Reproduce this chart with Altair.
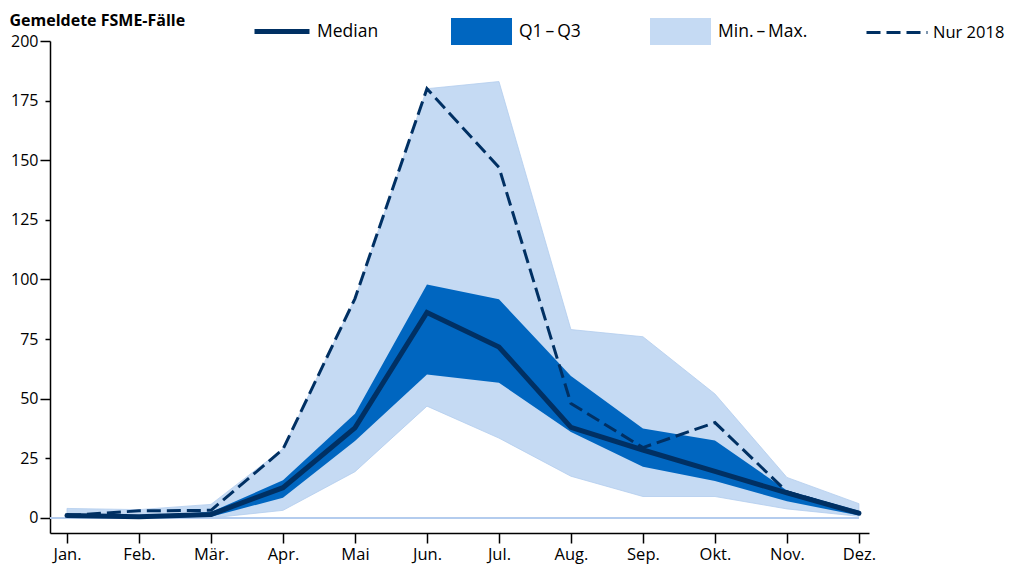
import altair as alt
import pandas as pd

months = ["Jan.", "Feb.", "Mär.", "Apr.", "Mai", "Jun.", "Jul.", "Aug.", "Sep.", "Okt.", "Nov.", "Dez."]
median = [1, 0.5, 1.5, 12.7, 37.8, 86.2, 71.7, 38, 28.5, 19.5, 10.5, 2]
q1 = [0.5, 0, 0.5, 8.5, 32.3, 60.2, 56.7, 36, 21.5, 15.5, 7, 1]
q3 = [1.5, 1, 2.5, 15.8, 43.7, 97.9, 91.7, 59.5, 37.5, 32.5, 11.5, 3]
vmin = [0, 0, 0, 3.2, 19.4, 46.9, 33.5, 17.5, 9, 9, 3.8, 0.7]
vmax = [4, 3.5, 5.7, 29, 92, 180, 183, 79, 76, 52, 17, 6]
nur2018 = [1, 3, 3.2, 28.8, 92, 180, 147, 48, 29.5, 40, 11, 2]
y_ticks = [0, 25, 50, 75, 100, 125, 150, 175, 200]
series_labels = ["Median", "Q1\u2009–\u2009Q3", "Min.\u2009–\u2009Max.", "Nur 2018"]

df = pd.DataFrame({
    "m": list(range(len(months))),
    "median": median, "q1": q1, "q3": q3,
    "vmin": vmin, "vmax": vmax, "y2018": nur2018,
    "l_med": [series_labels[0]] * len(months),
    "l_q": [series_labels[1]] * len(months),
    "l_mm": [series_labels[2]] * len(months),
    "l_18": [series_labels[3]] * len(months),
})

FONT = "Open Sans"
NAVY = "#003063"
MID = "#0066c0"
LIGHT = "#c5daf3"

label_expr = "[" + ",".join("'" + m + "'" for m in months) + "][datum.value]"

x_scale = alt.Scale(domain=[-0.236, 11.14], nice=False, zero=False)
y_scale = alt.Scale(domain=[-6.3, 200], nice=False, zero=False)

x_enc = alt.X("m:Q", scale=x_scale,
              axis=alt.Axis(values=list(range(len(months))), labelExpr=label_expr,
                            title=None, grid=False, tickSize=10, labelPadding=3,
                            domainColor="black", tickColor="black", domainWidth=1.5,
                            tickWidth=1.5, labelFont=FONT, labelFontSize=16.5,
                            labelColor="black"))

y_axis = alt.Axis(values=y_ticks, grid=False,
                  tickSize={"condition": {"test": "datum.value % 50 === 0", "value": 10}, "value": 5},
                  labelPadding={"condition": {"test": "datum.value % 50 === 0", "value": 2}, "value": 7},
                  domainColor="black", tickColor="black", domainWidth=1.5, tickWidth=1.5,
                  labelFont=FONT, labelFontSize=16, labelColor="black",
                  title="Gemeldete FSME-Fälle", titleAngle=0, titleX=-41, titleY=-15.8,
                  titleAlign="left", titleBaseline="alphabetic", titleFont=FONT,
                  titleFontSize=16, titleFontWeight="bold", titleColor="black")

rect_path = "M-1,-0.44L1,-0.44L1,0.44L-1,0.44Z"


def leg(x, y, size=17.5, **kw):
    return alt.Legend(orient="none", legendX=x, legendY=y, title=None, labelFont=FONT,
                      labelFontSize=size, labelColor="black", padding=0, **kw)


base = alt.Chart(df)

band_mm = base.mark_area(stroke="#b3cdee", strokeWidth=0.8).encode(
    x=x_enc,
    y=alt.Y("vmin:Q", scale=y_scale, axis=y_axis),
    y2="vmax:Q",
    fill=alt.Fill("l_mm:N", scale=alt.Scale(domain=[series_labels[2]], range=[LIGHT]),
                  legend=leg(600, -40, symbolType=rect_path, symbolSize=3721,
                             symbolStrokeWidth=0, labelOffset=7)),
)

baseline = base.mark_rule(color="#b3cdee", strokeWidth=1).encode(
    x=alt.datum(-0.236), x2=alt.datum(11), y=alt.datum(0)
)

band_q = base.mark_area().encode(
    x="m:Q",
    y="q1:Q",
    y2="q3:Q",
    color=alt.Color("l_q:N", scale=alt.Scale(domain=[series_labels[1]], range=[MID]),
                    legend=leg(401, -40, symbolType=rect_path, symbolSize=3721,
                               symbolStrokeWidth=0, labelOffset=7)),
)

line_2018 = base.mark_line(color=NAVY, strokeWidth=3).encode(
    x="m:Q",
    y="y2018:Q",
    strokeDash=alt.StrokeDash("l_18:N", scale=alt.Scale(domain=[series_labels[3]], range=[[14, 6]]),
                              legend=leg(815, -40.5, size=16.5, symbolType="stroke",
                                         symbolSize=3721, symbolStrokeWidth=3,
                                         symbolStrokeColor=NAVY, labelOffset=4)),
)

line_med = base.mark_line(strokeWidth=5, strokeCap="round").encode(
    x="m:Q",
    y="median:Q",
    stroke=alt.Stroke("l_med:N", scale=alt.Scale(domain=[series_labels[0]], range=[NAVY]),
                      legend=leg(202, -39.5, symbolType="stroke", symbolSize=3025,
                                 symbolStrokeWidth=5, labelOffset=5)),
)

chart = alt.layer(band_mm, baseline, band_q, line_2018, line_med).properties(
    width=819, height=492,
    autosize=alt.AutoSizeParams(type="none"),
    padding={"left": 42, "top": 33, "right": 139, "bottom": 35},
).configure(background="white").configure_view(stroke=None)

chart.save("out.html", embed_options={"renderer": "svg", "actions": False})
